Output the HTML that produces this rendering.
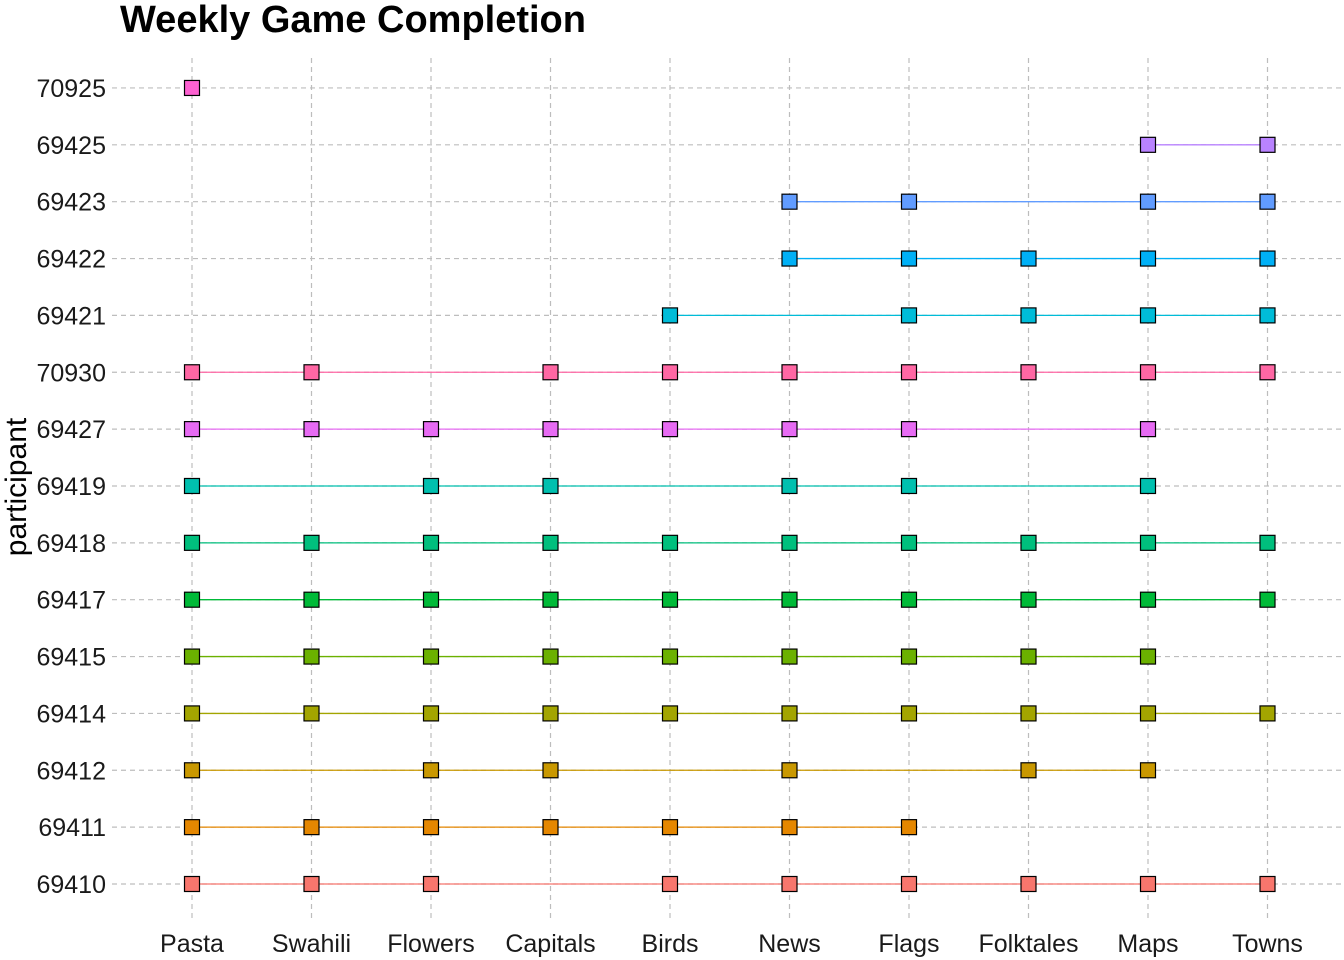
<!DOCTYPE html>
<html><head><meta charset="utf-8"><style>
body{margin:0;background:#fff;}
svg{display:block;font-family:"Liberation Sans",Arial,sans-serif;}
</style></head><body>
<svg id="chart" width="1344" height="960">
<text x="120" y="32" font-size="38" font-weight="bold" fill="#000">Weekly Game Completion</text>
<text transform="translate(26,487) rotate(-90)" text-anchor="middle" font-size="30" fill="#000">participant</text>
<g id="grid"></g><g id="lines"></g><g id="points"></g><g id="xticks"></g><g id="yticks"></g>
</svg>
<script>
const games = ["Pasta","Swahili","Flowers","Capitals","Birds","News","Flags","Folktales","Maps","Towns"];
const participants = ["69410","69411","69412","69414","69415","69417","69418","69419","69421","69422","69423","69425","69427","70925","70930"];
const yOrder = ["69410","69411","69412","69414","69415","69417","69418","69419","69427","70930","69421","69422","69423","69425","70925"];
const colors = ["#F8766D","#E58700","#C99800","#A3A500","#6BB100","#00BA38","#00BF7D","#00C0AF","#00BCD8","#00B0F6","#619CFF","#B983FF","#E76BF3","#FD61D1","#FF67A4"];
const completed = {
 "70925":["Pasta"],
 "69425":["Maps","Towns"],
 "69423":["News","Flags","Maps","Towns"],
 "69422":["News","Flags","Folktales","Maps","Towns"],
 "69421":["Birds","Flags","Folktales","Maps","Towns"],
 "70930":["Pasta","Swahili","Capitals","Birds","News","Flags","Folktales","Maps","Towns"],
 "69427":["Pasta","Swahili","Flowers","Capitals","Birds","News","Flags","Maps"],
 "69419":["Pasta","Flowers","Capitals","News","Flags","Maps"],
 "69418":["Pasta","Swahili","Flowers","Capitals","Birds","News","Flags","Folktales","Maps","Towns"],
 "69417":["Pasta","Swahili","Flowers","Capitals","Birds","News","Flags","Folktales","Maps","Towns"],
 "69415":["Pasta","Swahili","Flowers","Capitals","Birds","News","Flags","Folktales","Maps"],
 "69414":["Pasta","Swahili","Flowers","Capitals","Birds","News","Flags","Folktales","Maps","Towns"],
 "69412":["Pasta","Flowers","Capitals","News","Folktales","Maps"],
 "69411":["Pasta","Swahili","Flowers","Capitals","Birds","News","Flags"],
 "69410":["Pasta","Swahili","Flowers","Birds","News","Flags","Folktales","Maps","Towns"]
};
const NS="http://www.w3.org/2000/svg";
function xs(g){return 192+games.indexOf(g)*119.5;}
function ys(p){return 884-yOrder.indexOf(p)*56.86;}
function mk(tag,attrs,parent){const e=document.createElementNS(NS,tag);for(const k in attrs)e.setAttribute(k,attrs[k]);document.getElementById(parent).appendChild(e);return e;}
games.forEach(g=>{
 const l=mk("line",{x1:xs(g),x2:xs(g),y1:58,y2:920,stroke:"#bdbdbd","stroke-width":1.2,"stroke-dasharray":"5,4"},"grid");
 
 
 const t=mk("text",{x:xs(g),y:952,"text-anchor":"middle","font-size":25,fill:"#1a1a1a"},"xticks");
 t.textContent=g;
 
 
});
yOrder.forEach(p=>{
 const l=mk("line",{x1:112,x2:1344,y1:ys(p),y2:ys(p),stroke:"#bdbdbd","stroke-width":1.2,"stroke-dasharray":"5,4"},"grid");
 
 
 const t=mk("text",{x:106,y:ys(p)+9,"text-anchor":"end","font-size":25,fill:"#1a1a1a"},"yticks");
 t.textContent=p;
 
 
});
yOrder.forEach(p=>{
 const c=colors[participants.indexOf(p)];
 const gs=completed[p].slice().sort((a,b)=>games.indexOf(a)-games.indexOf(b));
 if(gs.length>1){
  const l=mk("line",{x1:xs(gs[0]),x2:xs(gs[gs.length-1]),y1:ys(p),y2:ys(p),stroke:c,"stroke-width":1.3},"lines");
  
  
 }
 gs.forEach(g=>{
  const r=mk("rect",{x:xs(g)-7.5,y:ys(p)-7.5,width:15,height:15,fill:c,stroke:"#000","stroke-width":1.2},"points");
  
  
 });
});
</script>
</body></html>
